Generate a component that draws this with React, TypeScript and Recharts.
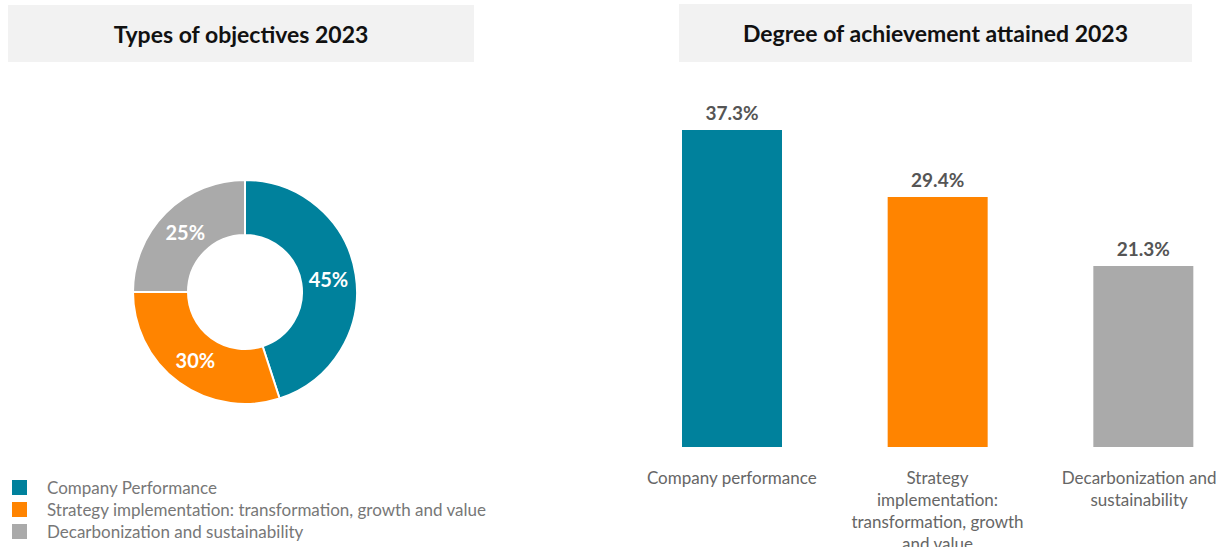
import React from 'react';
import { PieChart, Pie, Cell, BarChart, Bar, XAxis, YAxis, LabelList } from 'recharts';

const pieNames = ['Company Performance', 'Strategy implementation: transformation, growth and value', 'Decarbonization and sustainability'];
const pieValues = [45, 30, 25];
const barLabelLines = [
  ['Company performance'],
  ['Strategy', 'implementation:', 'transformation, growth', 'and value'],
  ['Decarbonization and', 'sustainability'],
];
const barValues = [37.3, 29.4, 21.3];
const colors = ['#00819c', '#ff8400', '#aaaaaa'];

const FONT = 'Lato, "Open Sans", sans-serif';
const BAR_W = 617;
const VISIBLE_W = 1219 - 629;

const pieData = pieNames.map((name, i) => ({ name, value: pieValues[i] }));
const barData = barLabelLines.map((lines, i) => ({ name: lines.join(' '), value: barValues[i] }));

const RAD = Math.PI / 180;

const renderPieLabel = (props: any) => {
  const { cx, cy, midAngle, innerRadius, outerRadius, value } = props;
  const r = (innerRadius + outerRadius) / 2;
  const x = cx + r * Math.cos(-midAngle * RAD);
  const y = cy + r * Math.sin(-midAngle * RAD);
  return (
    <text x={x} y={y} fill="#fff" textAnchor="middle" dominantBaseline="central"
      style={{ fontFamily: FONT, fontSize: 20, fontWeight: 700 }}>
      {value}%
    </text>
  );
};

const BarTick = (props: any) => {
  const { x, y, index } = props;
  const lines = barLabelLines[index] || [];
  // keep the last label inside the visible page, like the reference
  const half = Math.max(...lines.map((l) => l.length)) * 4.1;
  const cx = Math.min(x, VISIBLE_W - 2 - half);
  return (
    <text x={cx} y={y} textAnchor="middle" fill="#666" style={{ fontFamily: FONT, fontSize: 17 }}>
      {lines.map((l, i) => (
        <tspan key={i} x={cx} dy={i === 0 ? 29 : 22}>{l}</tspan>
      ))}
    </text>
  );
};

const titleStyle: React.CSSProperties = {
  position: 'absolute',
  background: '#f2f2f2',
  fontFamily: FONT,
  fontWeight: 700,
  fontSize: 23,
  color: '#111',
  display: 'flex',
  alignItems: 'center',
  justifyContent: 'center',
};

export default function App() {
  return (
    <div style={{ position: 'fixed', left: 0, top: 0, width: 1219, height: 547, overflow: 'hidden', background: '#fff' }}>
      <div style={{ ...titleStyle, left: 8, top: 5, width: 466, height: 57 }}>Types of objectives 2023</div>
      <div style={{ ...titleStyle, left: 679, top: 4, width: 513, height: 58 }}>Degree of achievement attained 2023</div>

      <div style={{ position: 'absolute', left: 0, top: 142 }}>
        <PieChart width={490} height={300}>
          <Pie data={pieData} dataKey="value" cx={240} cy={145} innerRadius={57} outerRadius={112}
            startAngle={90} endAngle={-270} stroke="#fff" strokeWidth={2}
            label={renderPieLabel} labelLine={false} isAnimationActive={false}>
            {pieData.map((d, i) => <Cell key={d.name} fill={colors[i]} />)}
          </Pie>
        </PieChart>
      </div>

      <div style={{ position: 'absolute', left: 12, top: 476, fontFamily: FONT, fontSize: 17, color: '#777' }}>
        {pieNames.map((n, i) => (
          <div key={n} style={{ display: 'flex', alignItems: 'center', height: 22 }}>
            <span style={{ width: 15, height: 15, background: colors[i], display: 'inline-block', marginRight: 20 }} />
            <span>{n}</span>
          </div>
        ))}
      </div>

      <div style={{ position: 'absolute', left: 629, top: 70 }}>
        <BarChart width={BAR_W} height={477} data={barData} margin={{ top: 37, right: 0, left: 0, bottom: 0 }} barSize={100}>
          <XAxis dataKey="name" axisLine={false} tickLine={false} height={100} interval={0} tick={<BarTick />} />
          <YAxis hide domain={[0, 40]} />
          <Bar dataKey="value" isAnimationActive={false}>
            {barData.map((d, i) => <Cell key={d.name} fill={colors[i]} />)}
            <LabelList dataKey="value" position="top" offset={10} fill="#555"
              formatter={(v: any) => `${Number(v).toFixed(1)}%`}
              style={{ fontFamily: FONT, fontSize: 19, fontWeight: 700 }} />
          </Bar>
        </BarChart>
      </div>
    </div>
  );
}
